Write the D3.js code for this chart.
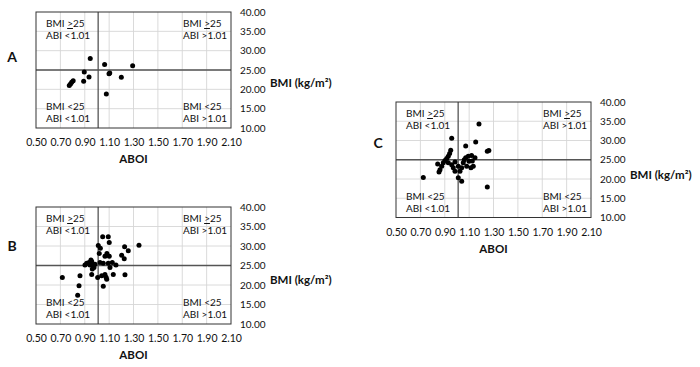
<!DOCTYPE html>
<html>
<head>
<meta charset="utf-8">
<script src="https://cdn.jsdelivr.net/npm/d3@7"></script>
<style>
  body { margin: 0; background: #fff; }
  svg text { font-family: Lato, "Open Sans", sans-serif; fill: #111; }
</style>
</head>
<body>
<svg id="chart" width="700" height="367"></svg>
<script>
// axis ticks shared by the three panels
const xTicks = [0.5, 0.7, 0.9, 1.1, 1.3, 1.5, 1.7, 1.9, 2.1];
const yTicks = [10, 15, 20, 25, 30, 35, 40];
const abiCut = 1.01;
const bmiCut = 25;

// [ABOI, BMI]
const pointsA = [
    [0.945, 28.0], [1.063, 26.4], [1.293, 26.1], [0.896, 24.5], [1.099, 24.0],
    [1.105, 24.2], [0.935, 23.2], [1.20, 23.1], [0.891, 22.1], [0.773, 21.0],
    [0.783, 21.4], [0.793, 21.8], [0.805, 22.2], [1.077, 18.8]
];

const pointsB = [
    [1.047, 32.4], [1.093, 32.4], [1.101, 30.9], [1.011, 30.1], [1.028, 29.4],
    [1.227, 29.8], [1.257, 28.8], [1.345, 30.2], [1.019, 28.1], [1.082, 28.1],
    [1.101, 27.4], [1.066, 27.4], [1.203, 27.6], [1.224, 26.7], [1.025, 25.8],
    [1.052, 25.6], [1.093, 25.6], [1.126, 25.8], [1.156, 25.1], [1.107, 24.5],
    [0.916, 25.6], [0.935, 25.8], [0.957, 26.0], [0.965, 25.1], [0.943, 25.1],
    [0.984, 25.3], [0.976, 24.5], [0.951, 26.4], [0.902, 25.1], [0.962, 24.1],
    [0.716, 21.9], [0.861, 22.4], [0.853, 19.8], [0.842, 17.4], [0.957, 22.7],
    [1.006, 21.9], [1.039, 22.4], [1.066, 22.7], [1.080, 21.5], [1.052, 19.7],
    [1.134, 22.7], [1.230, 22.6], [1.075, 22.0]
];

const pointsC = [
    [1.181, 34.3], [0.957, 30.6], [1.154, 29.6], [1.072, 28.6], [1.249, 27.2],
    [1.262, 27.4], [0.949, 27.5], [0.940, 26.6], [0.929, 25.9], [0.916, 25.3],
    [0.902, 24.8], [0.888, 24.2], [0.875, 23.3], [0.861, 22.4], [0.853, 21.8],
    [0.842, 23.9], [0.724, 20.4], [0.957, 23.7], [0.970, 22.9], [0.984, 24.4],
    [1.011, 23.3], [1.025, 22.0], [1.011, 20.3], [1.039, 19.4], [1.052, 24.2],
    [1.072, 25.5], [1.093, 25.9], [1.120, 26.1], [1.148, 25.5], [1.099, 24.6],
    [1.080, 23.3], [1.115, 22.9], [1.134, 23.3], [1.039, 22.9], [1.249, 17.9],
    [0.929, 24.2], [0.984, 22.0], [1.060, 25.0], [1.126, 24.7]
];

const svg = d3.select("#chart");

function drawPanel(cfg) {
    const w = 195, h = cfg.h;
    const g = svg.append("g").attr("transform", `translate(${cfg.left}, ${cfg.top})`);

    const x = d3.scaleLinear().domain([0.5, 2.1]).range([0, w]);
    const y = d3.scaleLinear().domain([10, 40]).range([h, 0]);

    // light grid
    g.append("g").selectAll("line")
        .data(xTicks.slice(1, -1))
        .enter().append("line")
        .attr("x1", d => x(d)).attr("x2", d => x(d))
        .attr("y1", 0).attr("y2", h)
        .attr("stroke", "#d6d6d6").attr("stroke-width", 0.9);
    g.append("g").selectAll("line")
        .data(yTicks.slice(1, -1))
        .enter().append("line")
        .attr("x1", 0).attr("x2", w)
        .attr("y1", d => y(d)).attr("y2", d => y(d))
        .attr("stroke", "#d6d6d6").attr("stroke-width", 0.9);

    // quadrant lines
    g.append("line")
        .attr("x1", x(abiCut)).attr("x2", x(abiCut))
        .attr("y1", 0).attr("y2", h)
        .attr("stroke", "#555").attr("stroke-width", 1.3);
    g.append("line")
        .attr("x1", 0).attr("x2", w)
        .attr("y1", y(bmiCut)).attr("y2", y(bmiCut))
        .attr("stroke", "#555").attr("stroke-width", 1.3);

    // frame
    g.append("rect")
        .attr("x", 0).attr("y", 0).attr("width", w).attr("height", h)
        .attr("fill", "none").attr("stroke", "#333").attr("stroke-width", 1);

    // points
    g.selectAll("circle")
        .data(cfg.points)
        .enter().append("circle")
        .attr("cx", d => x(d[0]))
        .attr("cy", d => y(d[1]))
        .attr("r", 2.5)
        .attr("fill", "#000");

    // x tick labels
    g.append("g")
        .attr("transform", `translate(0, ${h})`)
        .call(d3.axisBottom(x).tickValues(xTicks).tickFormat(d3.format(".2f")).tickSize(0).tickPadding(11))
        .call(a => a.select(".domain").remove())
        .selectAll("text")
        .attr("font-size", "10.5px")
        .attr("font-family", "Lato, sans-serif")
        .attr("fill", "#111");

    // y tick labels on the right
    g.append("g")
        .attr("transform", `translate(${w}, 0)`)
        .call(d3.axisRight(y).tickValues(yTicks).tickFormat(d3.format(".2f")).tickSize(0).tickPadding(9))
        .call(a => a.select(".domain").remove())
        .selectAll("text")
        .attr("font-size", "10px")
        .attr("font-family", "Lato, sans-serif")
        .attr("fill", "#111");

    // quadrant notes
    const notes = [
        { x: 10, y: 15, sign: ">", under: true, abi: "<1.01" },
        { x: 147, y: 15, sign: ">", under: true, abi: ">1.01" },
        { x: 10, y: h - 18, sign: "<", under: false, abi: "<1.01" },
        { x: 147, y: h - 18, sign: "<", under: false, abi: ">1.01" }
    ];
    notes.forEach(n => {
        const t1 = g.append("text").attr("x", n.x).attr("y", n.y).attr("font-size", "10px");
        t1.append("tspan").text("BMI ");
        t1.append("tspan").attr("text-decoration", n.under ? "underline" : null).text(n.sign);
        t1.append("tspan").text("25");
        g.append("text").attr("x", n.x).attr("y", n.y + 12).attr("font-size", "10px").text("ABI " + n.abi);
    });

    // axis titles
    g.append("text")
        .attr("x", w + 39).attr("y", cfg.bmiY)
        .attr("font-size", "11.5px").attr("font-weight", "bold")
        .text("BMI (kg/m²)");
    g.append("text")
        .attr("x", x(1.3)).attr("y", h + 35)
        .attr("text-anchor", "middle")
        .attr("font-size", "11.5px").attr("font-weight", "bold")
        .text("ABOI");

    // panel letter
    g.append("text")
        .attr("x", cfg.letterX).attr("y", cfg.letterY)
        .attr("text-anchor", "middle")
        .attr("font-size", "14px").attr("font-weight", "bold")
        .text(cfg.letter);
}

drawPanel({ left: 36, top: 12, h: 116, points: pointsA, letter: "A", letterX: -24, letterY: 50, bmiY: 75 });
drawPanel({ left: 36, top: 207, h: 117, points: pointsB, letter: "B", letterX: -24, letterY: 44, bmiY: 77 });
drawPanel({ left: 396, top: 102, h: 115.5, points: pointsC, letter: "C", letterX: -18, letterY: 46, bmiY: 77 });
</script>
</body>
</html>
